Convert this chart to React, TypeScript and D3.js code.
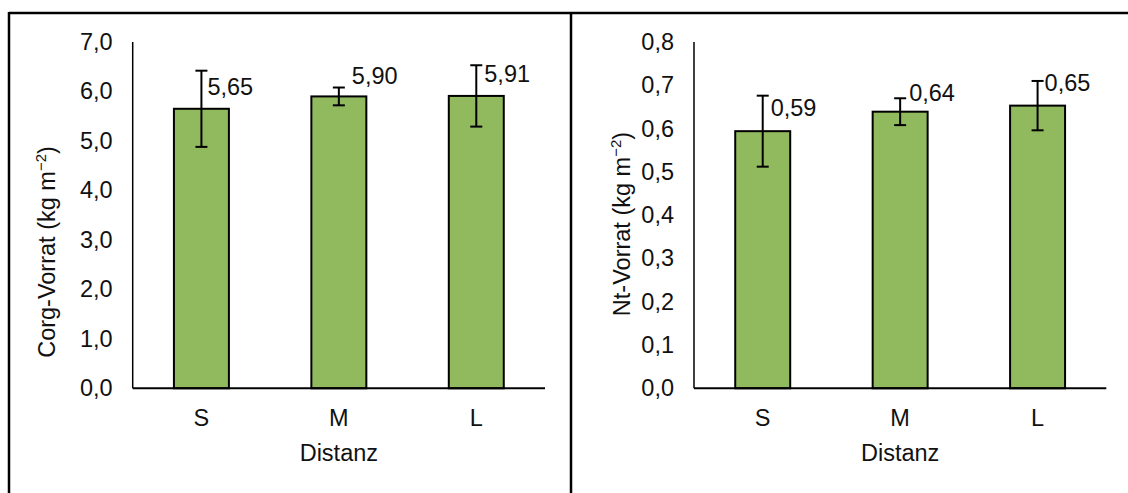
import React from "react";
import * as d3 from "d3";

const categories = ["S", "M", "L"];
const corgValues = [5.65, 5.9, 5.91];
const corgErrors = [0.77, 0.18, 0.62];
const corgTicks = [0, 1, 2, 3, 4, 5, 6, 7];
const ntValues = [0.594, 0.639, 0.653];
const ntErrors = [0.082, 0.031, 0.057];
const ntTicks = [0, 0.1, 0.2, 0.3, 0.4, 0.5, 0.6, 0.7, 0.8];

const W = 1128;
const H = 493;
const FONT = "'Liberation Sans', Arial, sans-serif";
const FS = 23.5;
const BAR_FILL = "#91BA5F";

type PanelProps = {
  x0: number;
  x1: number;
  values: number[];
  errors: number[];
  ticks: number[];
  domainMax: number;
  titleMain: string;
  titleX: number;
  titleY: number;
  labelNudge: [number, number][];
};

const fmt1 = (v: number) => d3.format(".1f")(v).replace(".", ",");
const fmt2 = (v: number) => d3.format(".2f")(v).replace(".", ",");

function Panel({ x0, x1, values, errors, ticks, domainMax, titleMain, titleX, titleY, labelNudge }: PanelProps) {
  const top = 42;
  const bottom = 388.3;
  const x = d3.scaleBand<string>().domain(categories).range([x0, x1]).paddingInner(0.6).paddingOuter(0.3);
  const y = d3.scaleLinear().domain([0, domainMax]).range([bottom, top]);
  const bw = x.bandwidth();
  const cx = (x0 + x1) / 2;
  return (
    <g fontFamily={FONT} fontSize={FS} fill="#111">
      {ticks.map((t) => (
        <text key={t} x={x0 - 20} y={y(t)} textAnchor="end" dominantBaseline="central">
          {fmt1(t)}
        </text>
      ))}
      {categories.map((c, i) => {
        const bx = x(c)!;
        const mid = bx + bw / 2;
        const v = values[i];
        const e = errors[i];
        return (
          <g key={c}>
            <rect x={bx} y={y(v)} width={bw} height={y(0) - y(v)} fill={BAR_FILL} stroke="#000" strokeWidth={2} />
            <line x1={mid} x2={mid} y1={y(v + e)} y2={y(v - e)} stroke="#000" strokeWidth={2} />
            <line x1={mid - 6} x2={mid + 6} y1={y(v + e)} y2={y(v + e)} stroke="#000" strokeWidth={2} />
            <line x1={mid - 6} x2={mid + 6} y1={y(v - e)} y2={y(v - e)} stroke="#000" strokeWidth={2} />
            <text x={mid + labelNudge[i][0]} y={y(v) + labelNudge[i][1]} dominantBaseline="central">
              {fmt2(v)}
            </text>
            <text x={mid} y={418} textAnchor="middle" dominantBaseline="central">
              {c}
            </text>
          </g>
        );
      })}
      <line x1={x0} x2={x0} y1={top} y2={bottom} stroke="#000" strokeWidth={1.5} />
      <line x1={x0} x2={x1} y1={bottom} y2={bottom} stroke="#000" strokeWidth={2} />
      <text x={cx} y={453} textAnchor="middle" dominantBaseline="central">
        Distanz
      </text>
      <text transform={`translate(${titleX},${titleY}) rotate(-90)`} textAnchor="middle">
        {titleMain} (kg m
        <tspan fontSize={15} dy={-9}>
          −2
        </tspan>
        <tspan dy={9}>)</tspan>
      </text>
    </g>
  );
}

export default function App() {
  return (
    <svg
      width={W}
      height={H}
      viewBox={`0 0 ${W} ${H}`}
      style={{ position: "absolute", left: 0, top: 0, background: "#fff" }}
    >
      <rect x={0} y={0} width={W} height={H} fill="#fff" />
      <line x1={9} x2={W} y1={13} y2={13} stroke="#000" strokeWidth={2.5} />
      <line x1={9} x2={9} y1={12} y2={H} stroke="#000" strokeWidth={2.5} />
      <line x1={571} x2={571} y1={12} y2={H} stroke="#000" strokeWidth={2.5} />
      <Panel
        x0={132.7}
        x1={545}
        values={corgValues}
        errors={corgErrors}
        ticks={corgTicks}
        domainMax={7}
        titleMain="Corg-Vorrat"
        titleX={55}
        titleY={252}
        labelNudge={[[6, -22], [13, -20], [8, -22]]}
      />
      <Panel
        x0={694}
        x1={1106.3}
        values={ntValues}
        errors={ntErrors}
        ticks={ntTicks}
        domainMax={0.8}
        titleMain="Nt-Vorrat"
        titleX={630}
        titleY={224}
        labelNudge={[[8, -22.7], [9, -18.5], [7, -22.7]]}
      />
    </svg>
  );
}
